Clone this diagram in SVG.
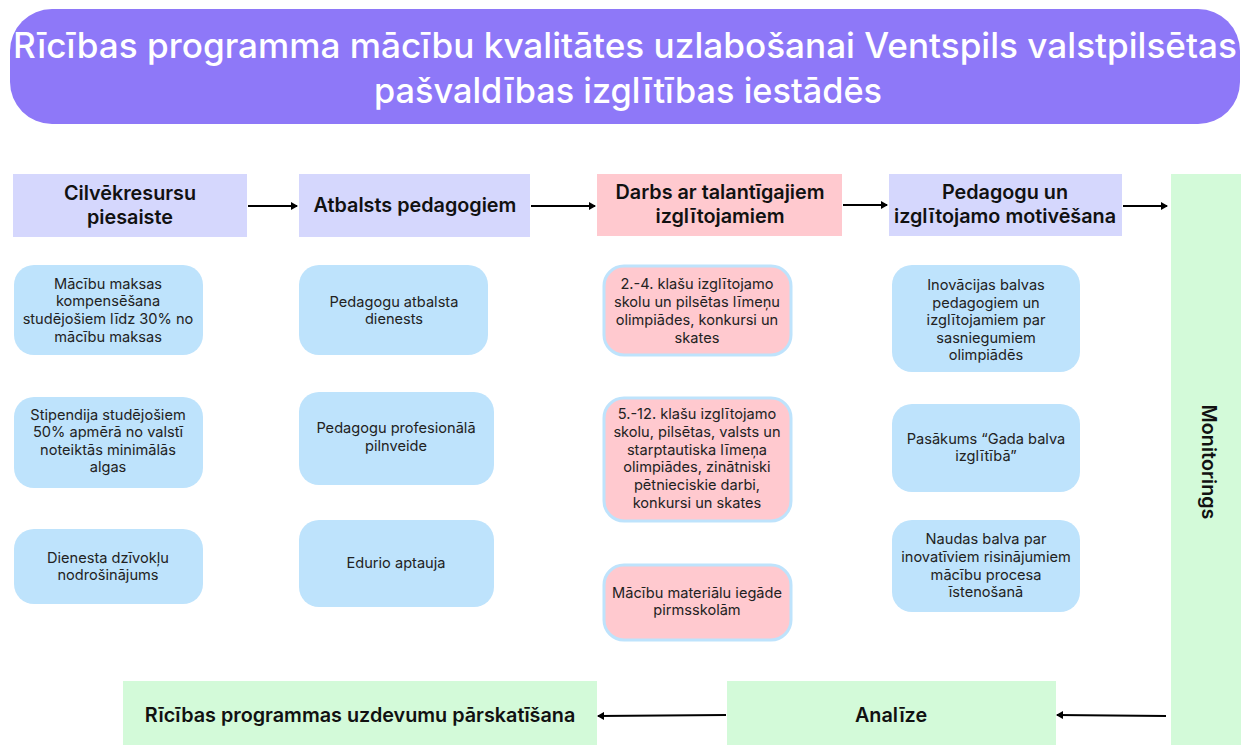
<svg xmlns="http://www.w3.org/2000/svg" width="1241" height="745" viewBox="0 0 1241 745">
<style>
.title{font-family:Inter,"Open Sans","Liberation Sans",sans-serif;font-size:35px;font-weight:500;fill:#ffffff;text-anchor:middle}
.hd{font-family:Inter,"Open Sans","Liberation Sans",sans-serif;font-size:19.8px;font-weight:600;fill:#111;text-anchor:middle}
.tx{font-family:Inter,"Open Sans","Liberation Sans",sans-serif;font-size:14.6px;font-weight:400;fill:#222;text-anchor:middle}
.lav{fill:#D5D7FD}
.pinkh{fill:#FFC9CF}
.green{fill:#D3FAD9}
.blue{fill:#BEE3FC}
.pink{fill:#FFC9CF;stroke:#BEE3FC;stroke-width:3}
.conn{stroke:#000;stroke-width:2;fill:none;marker-end:url(#ah)}
</style>
<defs>
<marker id="ah" markerWidth="8" markerHeight="8" refX="6" refY="4" orient="auto" markerUnits="userSpaceOnUse">
<path d="M0,0 L7,4 L0,8 Z" fill="#000"/>
</marker>
</defs>
<rect width="1241" height="745" fill="#ffffff"/>

<g id="title">
<rect x="10" y="9" width="1230" height="115" rx="42" fill="#8E78F8"/>
<text class="title" x="625" y="58" textLength="1224" lengthAdjust="spacingAndGlyphs">Rīcības programma mācību kvalitātes uzlabošanai Ventspils valstpilsētas</text>
<text class="title" x="628" y="103" textLength="508" lengthAdjust="spacingAndGlyphs">pašvaldības izglītības iestādēs</text>
</g>

<g id="h1"><rect class="lav" x="13" y="174" width="234" height="63"/>
<text class="hd" x="130" y="200">Cilvēkresursu</text><text class="hd" x="130" y="224">piesaiste</text></g>
<g id="h2"><rect class="lav" x="299" y="174" width="231" height="63"/>
<text class="hd" x="415" y="212">Atbalsts pedagogiem</text></g>
<g id="h3"><rect class="pinkh" x="597" y="174" width="245" height="62"/>
<text class="hd" x="720" y="199">Darbs ar talantīgajiem</text><text class="hd" x="720" y="223">izglītojamiem</text></g>
<g id="h4"><rect class="lav" x="889" y="174" width="233" height="62"/>
<text class="hd" x="1005" y="199">Pedagogu un</text><text class="hd" x="1005" y="223">izglītojamo motivēšana</text></g>
<g id="monitorings"><rect class="green" x="1171" y="174" width="70" height="571"/>
<text class="hd" x="0" y="0" transform="translate(1202,462) rotate(90)">Monitorings</text></g>

<g id="c1a"><rect class="blue" x="14" y="265" width="189" height="90" rx="20"/>
<text class="tx" x="108" y="289">Mācību maksas</text><text class="tx" x="108" y="306">kompensēšana</text><text class="tx" x="108" y="324">studējošiem līdz 30% no</text><text class="tx" x="108" y="342">mācību maksas</text></g>
<g id="c1b"><rect class="blue" x="14" y="397" width="189" height="91" rx="20"/>
<text class="tx" x="108" y="420">Stipendija studējošiem</text><text class="tx" x="108" y="437">50% apmērā no valstī</text><text class="tx" x="108" y="455">noteiktās minimālās</text><text class="tx" x="108" y="472">algas</text></g>
<g id="c1c"><rect class="blue" x="14" y="529" width="189" height="75" rx="20"/>
<text class="tx" x="108" y="563">Dienesta dzīvokļu</text><text class="tx" x="108" y="580">nodrošinājums</text></g>

<g id="c2a"><rect class="blue" x="299" y="265" width="189" height="90" rx="20"/>
<text class="tx" x="394" y="307">Pedagogu atbalsta</text><text class="tx" x="394" y="324">dienests</text></g>
<g id="c2b"><rect class="blue" x="299" y="392" width="195" height="93" rx="20"/>
<text class="tx" x="396" y="433">Pedagogu profesionālā</text><text class="tx" x="396" y="451">pilnveide</text></g>
<g id="c2c"><rect class="blue" x="299" y="520" width="195" height="87" rx="20"/>
<text class="tx" x="396" y="568">Edurio aptauja</text></g>

<g id="c3a"><rect class="pink" x="604" y="266" width="187" height="89" rx="20"/>
<text class="tx" x="697" y="289">2.-4. klašu izglītojamo</text><text class="tx" x="697" y="307">skolu un pilsētas līmeņu</text><text class="tx" x="697" y="325">olimpiādes, konkursi un</text><text class="tx" x="697" y="343">skates</text></g>
<g id="c3b"><rect class="pink" x="604" y="398" width="187" height="123" rx="20"/>
<text class="tx" x="697" y="419">5.-12. klašu izglītojamo</text><text class="tx" x="697" y="437">skolu, pilsētas, valsts un</text><text class="tx" x="697" y="455">starptautiska līmeņa</text><text class="tx" x="697" y="472">olimpiādes, zinātniski</text><text class="tx" x="697" y="490">pētnieciskie darbi,</text><text class="tx" x="697" y="508">konkursi un skates</text></g>
<g id="c3c"><rect class="pink" x="604" y="565" width="187" height="75" rx="20"/>
<text class="tx" x="697" y="598">Mācību materiālu iegāde</text><text class="tx" x="697" y="615">pirmsskolām</text></g>

<g id="c4a"><rect class="blue" x="892" y="265" width="188" height="107" rx="20"/>
<text class="tx" x="986" y="290">Inovācijas balvas</text><text class="tx" x="986" y="308">pedagogiem un</text><text class="tx" x="986" y="325">izglītojamiem par</text><text class="tx" x="986" y="343">sasniegumiem</text><text class="tx" x="986" y="360">olimpiādēs</text></g>
<g id="c4b"><rect class="blue" x="892" y="404" width="188" height="88" rx="20"/>
<text class="tx" x="986" y="444">Pasākums “Gada balva</text><text class="tx" x="986" y="461">izglītībā”</text></g>
<g id="c4c"><rect class="blue" x="892" y="520" width="188" height="92" rx="20"/>
<text class="tx" x="986" y="544">Naudas balva par</text><text class="tx" x="986" y="562">inovatīviem risinājumiem</text><text class="tx" x="986" y="580">mācību procesa</text><text class="tx" x="986" y="597">īstenošanā</text></g>

<g id="review"><rect class="green" x="123" y="681" width="474" height="64"/>
<text class="hd" x="360" y="722">Rīcības programmas uzdevumu pārskatīšana</text></g>
<g id="analize"><rect class="green" x="727" y="681" width="329" height="64"/>
<text class="hd" x="891" y="722">Analīze</text></g>

<g id="connectors">
<line class="conn" x1="248" y1="206" x2="297" y2="206"/>
<line class="conn" x1="531" y1="206" x2="595" y2="206"/>
<line class="conn" x1="843" y1="205" x2="887" y2="205"/>
<line class="conn" x1="1123" y1="206" x2="1167" y2="206"/>
<line class="conn" x1="1166" y1="716" x2="1057" y2="715"/>
<line class="conn" x1="726" y1="715" x2="598" y2="716"/>
</g>
</svg>
